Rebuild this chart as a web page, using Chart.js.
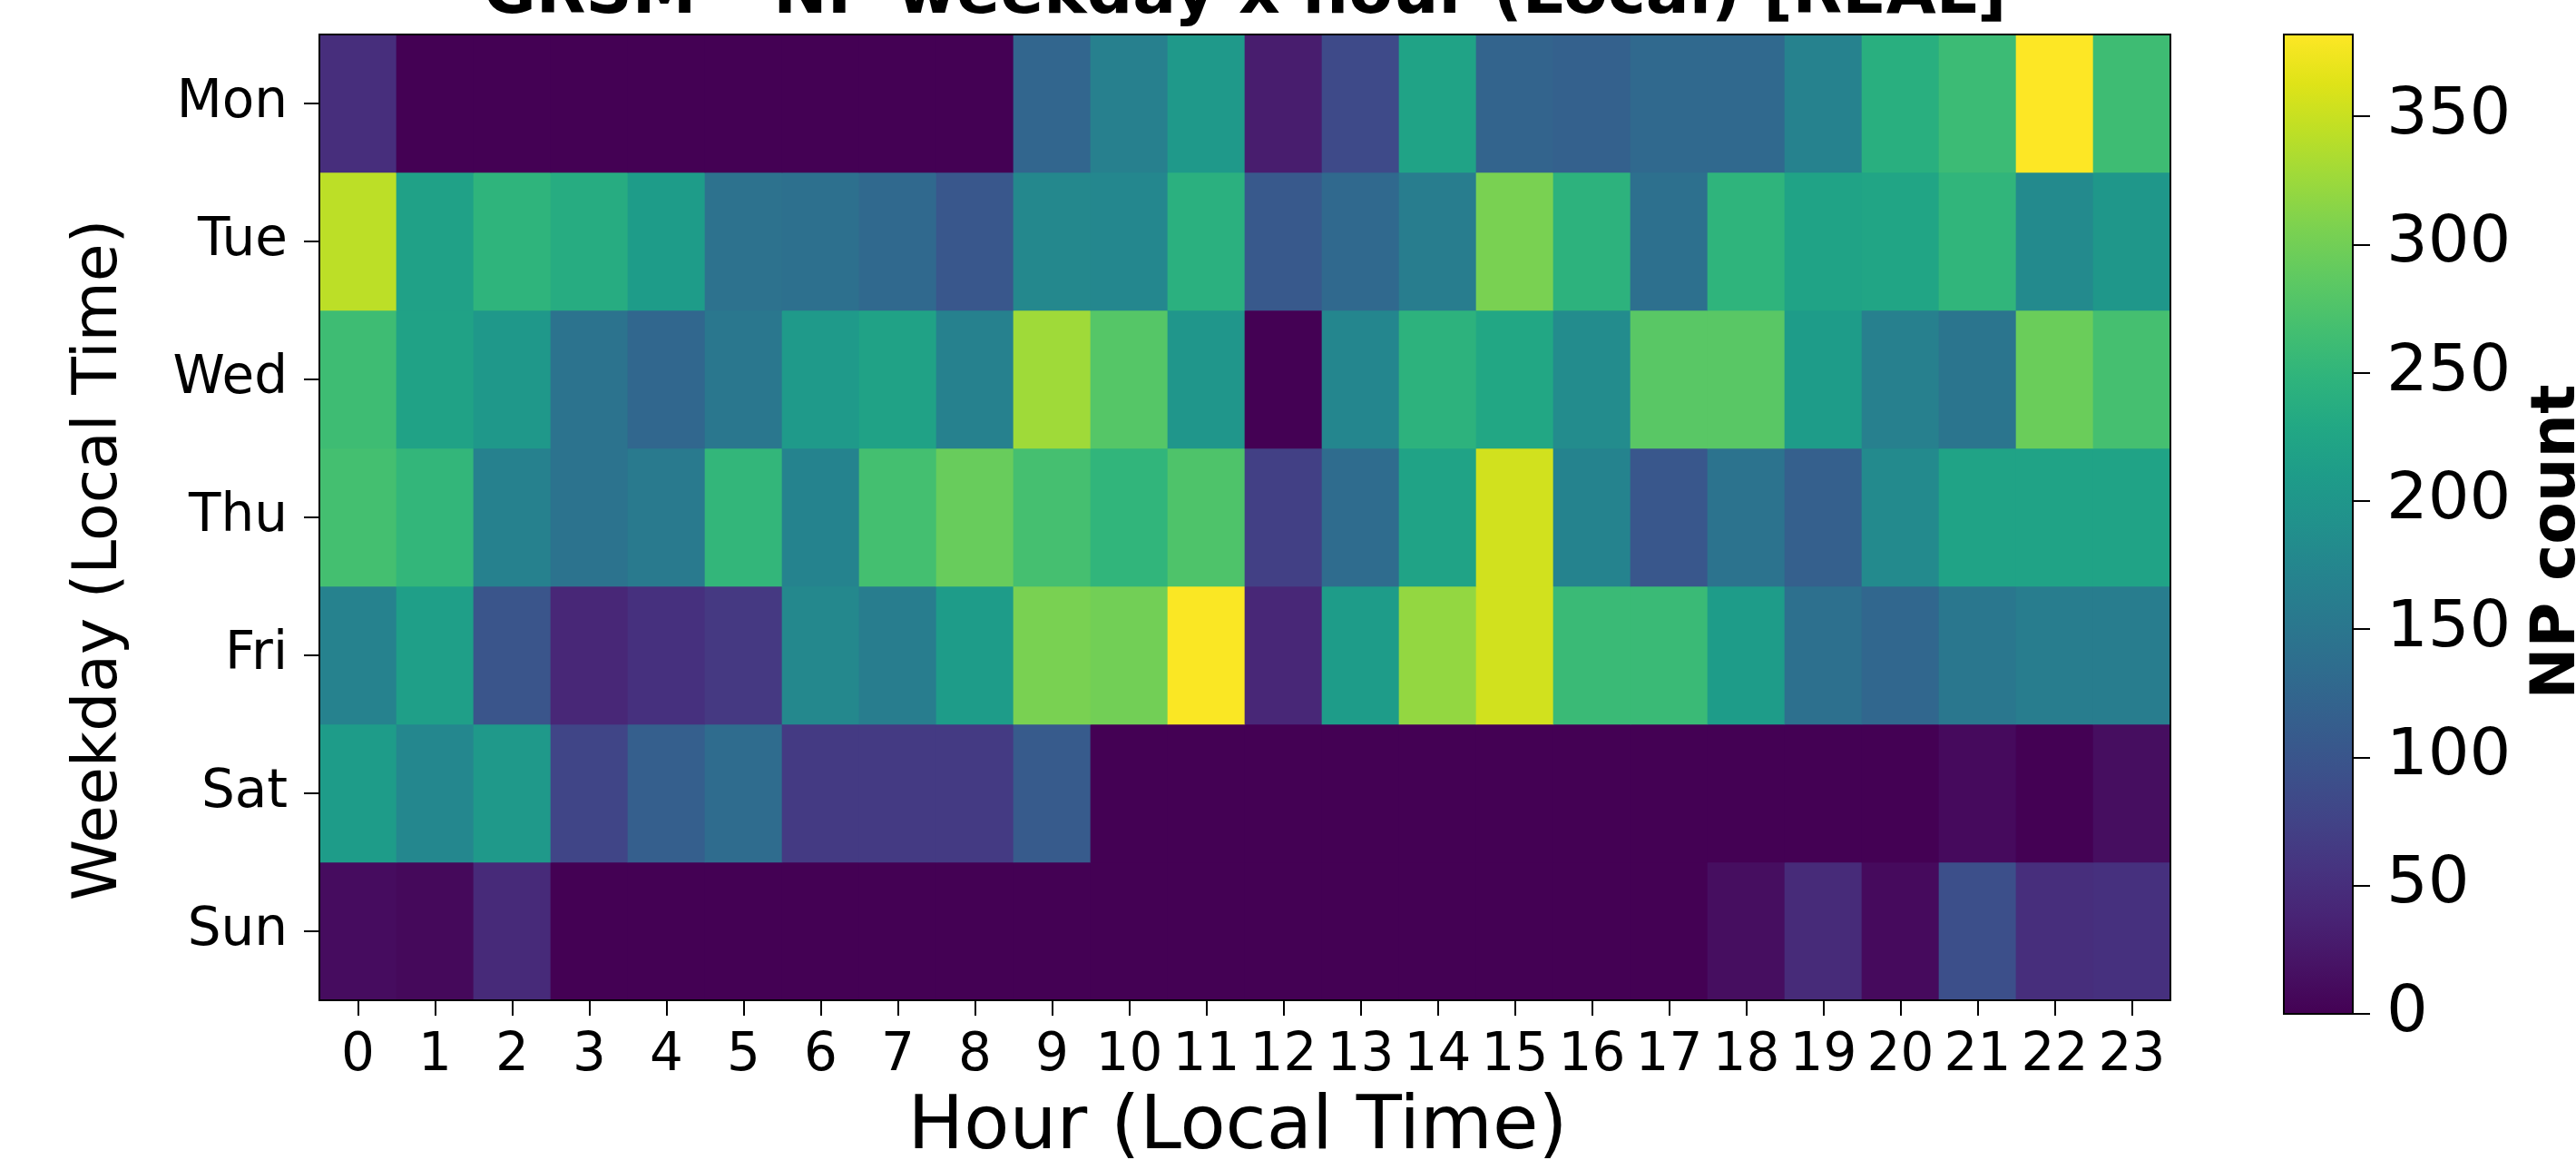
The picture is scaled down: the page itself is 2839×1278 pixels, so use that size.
<!DOCTYPE html>
<html>
<head>
<meta charset="utf-8">
<title>GRSM – NP weekday x hour</title>
<script src="https://cdn.jsdelivr.net/npm/chart.js@4.4.1/dist/chart.umd.min.js"></script>
<style>
  html, body { margin: 0; padding: 0; background: #fff; }
  #wrap { position: relative; width: 2839px; height: 1278px; overflow: hidden; background: #fff; }
  #heat { position: absolute; left: 0; top: 0; }
  #cbar { position: absolute; left: 2480px; top: 0; }
</style>
</head>
<body>
<div id="wrap">
  <canvas id="heat" width="2839" height="1278"></canvas>
  <canvas id="cbar" width="359" height="1278"></canvas>
</div>
<script>
// categories
const hours = ['0', '1', '2', '3', '4', '5', '6', '7', '8', '9', '10', '11',
               '12', '13', '14', '15', '16', '17', '18', '19', '20', '21', '22', '23'];
const weekdays = ['Mon', 'Tue', 'Wed', 'Thu', 'Fri', 'Sat', 'Sun'];

// NP counts per hour, one array per weekday
const mon = [50, 0, 0, 0, 0, 0, 0, 0, 0, 125, 165, 205, 30, 85, 222, 122, 118, 130, 130, 168, 240, 260, 382, 262];
const tue = [343, 218, 248, 236, 210, 143, 140, 130, 103, 178, 176, 242, 106, 130, 160, 305, 245, 140, 248, 222, 225, 250, 180, 202];
const wed = [262, 220, 203, 145, 126, 152, 206, 220, 167, 327, 280, 200, 0, 175, 245, 228, 183, 283, 283, 210, 165, 148, 295, 268];
const thu = [267, 252, 167, 145, 156, 252, 170, 267, 293, 268, 250, 275, 72, 133, 222, 355, 170, 103, 145, 116, 180, 222, 222, 222];
const fri = [168, 215, 100, 42, 53, 63, 178, 160, 210, 305, 300, 380, 42, 210, 320, 355, 258, 258, 210, 140, 126, 152, 160, 160];
const sat = [210, 176, 205, 78, 115, 133, 65, 65, 65, 108, 0, 0, 0, 0, 0, 0, 0, 0, 0, 0, 0, 10, 0, 14];
const sun = [12, 8, 45, 0, 0, 0, 0, 0, 0, 0, 0, 0, 0, 0, 0, 0, 0, 0, 14, 46, 10, 92, 50, 53];

// colorbar tick labels
const cbTicks = [0, 50, 100, 150, 200, 250, 300, 350];

const titleText = 'GRSM – NP weekday x hour (Local) [REAL]';
const xTitle = 'Hour (Local Time)';
const yTitle = 'Weekday (Local Time)';
const cbTitle = 'NP count';

const rows = [mon, tue, wed, thu, fri, sat, sun];
const vmax = Math.max(...rows.flat());

// viridis colormap, 21 stops
const viridis = ['#440154', '#471365', '#482475', '#463480', '#414487', '#3b528b', '#355f8d',
  '#2f6c8e', '#2a788e', '#25848e', '#21918c', '#1e9c89', '#22a884', '#2fb47c', '#44bf70',
  '#5ec962', '#7ad151', '#9bd93c', '#bddf26', '#dfe318', '#fde725'];

function hexRgb(h) {
  return [parseInt(h.slice(1, 3), 16), parseInt(h.slice(3, 5), 16), parseInt(h.slice(5, 7), 16)];
}

function colorFor(v) {
  let t = Math.min(Math.max(v / vmax, 0), 1) * (viridis.length - 1);
  const i = Math.min(Math.floor(t), viridis.length - 2);
  const f = t - i;
  const a = hexRgb(viridis[i]), b = hexRgb(viridis[i + 1]);
  const c = a.map((x, k) => Math.round(x + (b[k] - x) * f));
  return `rgb(${c[0]},${c[1]},${c[2]})`;
}

// keep tick label overflow from pushing the plot area around
function noPad(scale) {
  scale.paddingTop = 0;
  scale.paddingBottom = 0;
  scale.paddingLeft = 0;
  scale.paddingRight = 0;
}

Chart.defaults.font.family = '"DejaVu Sans", sans-serif';
Chart.defaults.color = '#000';

const framePlugin = {
  id: 'frame',
  afterDatasetsDraw(chart) {
    const { ctx, chartArea: a } = chart;
    ctx.save();
    ctx.strokeStyle = '#000';
    ctx.lineWidth = 2;
    ctx.strokeRect(a.left, a.top, a.right - a.left, a.bottom - a.top);
    ctx.restore();
  }
};

const heatTexts = {
  id: 'heatTexts',
  afterDraw(chart) {
    const { ctx, chartArea: a } = chart;
    const cx = (a.left + a.right) / 2;
    ctx.save();
    ctx.fillStyle = '#000';
    ctx.textAlign = 'center';
    ctx.textBaseline = 'alphabetic';
    ctx.font = 'bold 71px "DejaVu Sans"';
    ctx.fillText(titleText, cx, 14);
    ctx.font = '82px "DejaVu Sans"';
    ctx.fillText(xTitle, cx - 8, 1265);
    ctx.translate(128, 617);
    ctx.rotate(-Math.PI / 2);
    ctx.font = '68px "DejaVu Sans"';
    ctx.fillText(yTitle, 0, 0);
    ctx.restore();
  }
};

new Chart(document.getElementById('heat'), {
  type: 'bar',
  data: {
    labels: hours,
    datasets: rows.map((vals, d) => ({
      label: weekdays[d],
      data: hours.map(() => [d, d + 1]),
      backgroundColor: vals.map(colorFor),
      borderWidth: 0,
      barPercentage: 1,
      categoryPercentage: 1,
      grouped: false
    }))
  },
  options: {
    responsive: false,
    animation: false,
    layout: { padding: { left: 0, top: 38, right: 447, bottom: 0 } },
    plugins: { legend: { display: false }, tooltip: { enabled: false } },
    scales: {
      x: {
        grid: { display: true, drawOnChartArea: false, offset: false, tickLength: 17, color: '#000', lineWidth: 2 },
        border: { display: false },
        ticks: { font: { size: 58 }, padding: 10, maxRotation: 0, autoSkip: false },
        afterFit(scale) { scale.height = 176; noPad(scale); }
      },
      y: {
        min: 0,
        max: weekdays.length,
        reverse: true,
        grid: { display: true, drawOnChartArea: false, tickLength: 17, color: '#000', lineWidth: 2 },
        border: { display: false },
        afterBuildTicks(axis) { axis.ticks = weekdays.map((d, i) => ({ value: i + 0.5 })); },
        ticks: { font: { size: 58 }, padding: 18, callback: (v, i) => weekdays[i] },
        afterFit(scale) { scale.width = 352; noPad(scale); }
      }
    }
  },
  plugins: [framePlugin, heatTexts]
});

const cbTexts = {
  id: 'cbTexts',
  afterDraw(chart) {
    const { ctx } = chart;
    ctx.save();
    ctx.fillStyle = '#000';
    ctx.textAlign = 'center';
    ctx.textBaseline = 'alphabetic';
    ctx.font = 'bold 68px "DejaVu Sans"';
    ctx.translate(357, 597);
    ctx.rotate(-Math.PI / 2);
    ctx.fillText(cbTitle, 0, 0);
    ctx.restore();
  }
};

new Chart(document.getElementById('cbar'), {
  type: 'bar',
  data: {
    labels: [''],
    datasets: [{
      data: [[0, vmax]],
      backgroundColor(c) {
        const a = c.chart.chartArea;
        if (!a) return viridis[0];
        const g = c.chart.ctx.createLinearGradient(0, a.bottom, 0, a.top);
        viridis.forEach((col, i) => g.addColorStop(i / (viridis.length - 1), col));
        return g;
      },
      borderWidth: 0,
      barPercentage: 1,
      categoryPercentage: 1
    }]
  },
  options: {
    responsive: false,
    animation: false,
    layout: { padding: { left: 37, top: 38, right: 0, bottom: 161 } },
    plugins: { legend: { display: false }, tooltip: { enabled: false } },
    scales: {
      x: { display: false, afterFit: noPad },
      y: {
        position: 'right',
        min: 0,
        max: vmax,
        grid: { display: true, drawOnChartArea: false, tickLength: 19, color: '#000', lineWidth: 2 },
        border: { display: false },
        afterBuildTicks(axis) { axis.ticks = cbTicks.map(v => ({ value: v })); },
        ticks: { font: { size: 72 }, padding: 18 },
        afterFit(scale) { scale.width = 246; noPad(scale); }
      }
    }
  },
  plugins: [framePlugin, cbTexts]
});
</script>
</body>
</html>
